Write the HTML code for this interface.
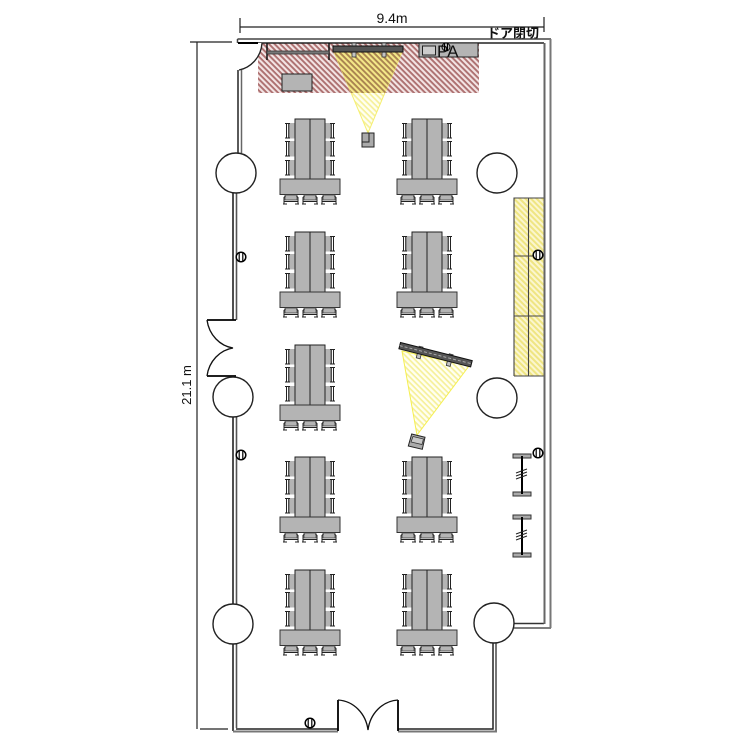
<!DOCTYPE html>
<html><head><meta charset="utf-8"><style>html,body{margin:0;padding:0;background:#fff}svg{display:block}text{font-family:"Liberation Sans","Noto Sans CJK JP",sans-serif;fill:#111}</style></head>
<body><svg width="750" height="750" viewBox="0 0 750 750" xmlns="http://www.w3.org/2000/svg">
<defs>
<pattern id="red" width="4" height="4" patternUnits="userSpaceOnUse" patternTransform="rotate(45)"><rect width="4" height="4" fill="#f3e4e4"/><rect width="4" height="1.900" fill="#ad7070"/></pattern>
<pattern id="yel" width="4" height="4" patternUnits="userSpaceOnUse" patternTransform="rotate(45)"><rect width="4" height="4" fill="#fffff2"/><rect width="4" height="1.700" fill="#f6f09a"/></pattern>
<pattern id="yelr" width="4" height="4" patternUnits="userSpaceOnUse" patternTransform="rotate(45)"><rect width="4" height="4" fill="#fbf6cf"/><rect width="4" height="2" fill="#efe582"/></pattern>
<pattern id="org" width="4" height="4" patternUnits="userSpaceOnUse" patternTransform="rotate(45)"><rect width="4" height="4" fill="#f4e888"/><rect width="4" height="1.900" fill="#a98350"/></pattern>
<g id="sc"><rect x="3" y="0" width="7" height="15.500" fill="#b4b4b4"/><path d="M0 .5H5M0 15H5M1.500 .5V15M3.800 .5V15" fill="none" stroke="#222" stroke-width="1"/></g>
<g id="bc"><rect x="2" y="0" width="12" height="5" fill="#b4b4b4" stroke="#444" stroke-width=".8"/><path d="M1 9V2.500L2.500 1M15 9V2.500L13.500 1M1 6.500H15M0 9H4M12 9H16" fill="none" stroke="#222" stroke-width="1"/></g>
<g id="t">
<use href="#sc" x="5" y="4"/><use href="#sc" x="5" y="22"/><use href="#sc" x="5" y="41"/>
<use href="#sc" transform="translate(55 4) scale(-1 1)"/><use href="#sc" transform="translate(55 22) scale(-1 1)"/><use href="#sc" transform="translate(55 41) scale(-1 1)"/>
<rect x="15" y="0" width="30" height="60" fill="#b4b4b4" stroke="#222"/><path d="M30 0V60" stroke="#222"/>
<rect x="0" y="60" width="60" height="15.500" fill="#b4b4b4" stroke="#333"/>
<use href="#bc" x="3" y="76"/><use href="#bc" x="22" y="76"/><use href="#bc" x="41" y="76"/>
</g>
<g id="o"><circle cx="0" cy="0" r="4.800" fill="#fff" stroke="#000" stroke-width="1.500"/><path d="M-1.800 -4.500V4.500M1.800 -4.500V4.500" stroke="#000" stroke-width="1.200"/></g>
<g id="e"><rect x="0" y="0" width="18" height="4" fill="#aaa" stroke="#333" stroke-width="1"/><rect x="0" y="38" width="18" height="4" fill="#aaa" stroke="#333" stroke-width="1"/><path d="M9 2V40" stroke="#000" stroke-width="2"/><path d="M3 19l11-4M3 22l11-4M3 25l11-4" stroke="#222" stroke-width="1"/></g>
</defs>

<!-- hatched areas -->
<rect x="258" y="43" width="221" height="50" fill="url(#red)"/>
<path d="M334 52H402L368 133Z" fill="url(#yel)" stroke="#f5ef70"/>
<path d="M334 52H402L385 93H351Z" fill="url(#org)"/>
<path d="M402 351L469 366L417 435Z" fill="url(#yel)" stroke="#f5ef50"/>
<rect x="514" y="198" width="30" height="178" fill="url(#yelr)"/>
<path d="M514 376V198H544M514 376H544M528.500 198V376M514 256H544M514 316H544" fill="none" stroke="#444" stroke-width="1.100"/>

<!-- dimensions -->
<path d="M240 27H544M240 18V33M544 17V32" stroke="#222" fill="none" stroke-width="1.200"/>
<path d="M197 42V729M190 42H232M200 729H228" stroke="#222" fill="none" stroke-width="1.200"/>
<text x="392" y="23" font-size="14" text-anchor="middle">9.4m</text>
<text x="0" y="0" font-size="13" text-anchor="middle" transform="translate(191 385) rotate(-90)">21.1 m</text>
<text x="487" y="38" font-size="13" font-weight="700">ドア閉切</text>

<!-- walls -->
<g fill="none">
<path d="M237.500 39H551" stroke="#444" stroke-width="1.500"/>
<path d="M237.500 39V43" stroke="#444" stroke-width="1.500"/>
<path d="M258 43H544" stroke="#222" stroke-width="1.500"/>
<path d="M238 70V153" stroke="#222" stroke-width="1.500"/><path d="M241.500 70V153" stroke="#666" stroke-width="1.500"/>
<path d="M233 193V320M233 417V604M233 644V731" stroke="#222" stroke-width="1.600"/>
<path d="M236.500 193V320M236.500 417V604M236.500 644V728" stroke="#555" stroke-width="1.600"/>
<path d="M236 729H338M398 729H493V643" stroke="#222" stroke-width="1.500"/>
<path d="M233 731.500H338M398 731.500H496V643" stroke="#777" stroke-width="2"/>
<path d="M514 623.500H544" stroke="#333" stroke-width="1.400"/>
<path d="M514 628H551" stroke="#555" stroke-width="1.600"/>
<path d="M544.500 43V624" stroke="#666" stroke-width="2"/><path d="M550.500 39V628" stroke="#777" stroke-width="2"/>
</g>
<path d="M238 43H258" stroke="#000" stroke-width="2"/>
<path d="M262 43C261 58 250 68 239 70L258 70V43Z" fill="#fff" stroke="none"/>
<path d="M262 43C261 58 250 68 239 70" fill="none" stroke="#222" stroke-width="1.300"/>
<path d="M207 320H236M207 376H236" stroke="#000" stroke-width="1.800"/>
<path d="M207 320C209 335 220 346 233 348C220 350 209 361 207 376" fill="none" stroke="#111" stroke-width="1.300"/>
<path d="M338 731V700M398 731V700" stroke="#000" stroke-width="1.800"/>
<path d="M338 700C354 701 366 714 368 730C370 714 382 701 398 700" fill="none" stroke="#111" stroke-width="1.300"/>

<!-- pillars -->
<g fill="#fff" stroke="#222" stroke-width="1.400">
<circle cx="236" cy="173" r="20"/><circle cx="233" cy="397" r="20"/><circle cx="233" cy="624" r="20"/>
<circle cx="497" cy="173" r="20"/><circle cx="497" cy="398" r="20"/><circle cx="494" cy="623" r="20"/>
</g>

<!-- stage items -->
<path d="M267 43V60M329 43V60" stroke="#111" stroke-width="1.500"/>
<rect x="267" y="51" width="62" height="3" fill="#777" stroke="#333" stroke-width=".8"/>
<rect x="352" y="43" width="4" height="14" fill="#c4c4c4" stroke="#333" stroke-width=".8"/><rect x="382" y="43" width="4" height="14" fill="#c4c4c4" stroke="#333" stroke-width=".8"/>
<rect x="333" y="46" width="70" height="6" fill="#555" stroke="#111"/>
<rect x="282" y="74" width="30" height="17" fill="#b4b4b4" stroke="#222"/>
<rect x="419" y="43" width="59" height="14" fill="#b4b4b4" stroke="#222"/>
<rect x="422.500" y="46" width="13" height="9" fill="#ccc" stroke="#222"/>
<text x="437" y="57" font-size="17">PA</text>
<circle cx="446" cy="47" r="4" fill="none" stroke="#000"/><path d="M444.500 43V51M447.500 43V51" stroke="#000"/>

<!-- projector -->
<rect x="362" y="133" width="12" height="14" fill="#aaa" stroke="#222"/><path d="M362 142H369V133" fill="none" stroke="#222"/>

<!-- tilted screen -->
<g transform="translate(400.500 342.500) rotate(14.200)">
<rect x="19" y="-1" width="4" height="12" fill="#c4c4c4" stroke="#333" stroke-width=".8"/><rect x="50" y="-1" width="4" height="12" fill="#c4c4c4" stroke="#333" stroke-width=".8"/>
<rect x="0" y="0" width="74" height="6.500" fill="#555" stroke="#111"/>
<path d="M0 3.200H74" stroke="#aaa" stroke-dasharray="3 2"/>
</g>
<path d="M411.700 434L425 437.300L422.300 449.300L408.300 446Z" fill="#aaa" stroke="#222"/>
<path d="M413 436.500L423.500 439L422 444.500L411 442Z" fill="#c8c8c8" stroke="#333" stroke-width=".8"/>

<!-- tables -->
<use href="#t" x="280" y="119"/><use href="#t" x="397" y="119"/>
<use href="#t" x="280" y="232"/><use href="#t" x="397" y="232"/>
<use href="#t" x="280" y="345"/>
<use href="#t" x="280" y="457"/><use href="#t" x="397" y="457"/>
<use href="#t" x="280" y="570"/><use href="#t" x="397" y="570"/>

<!-- outlets -->
<use href="#o" x="241" y="257"/><use href="#o" x="241" y="455"/><use href="#o" x="538" y="255"/><use href="#o" x="538" y="453"/><use href="#o" x="310" y="723"/>
<!-- stands -->
<use href="#e" x="513" y="454"/><use href="#e" x="513" y="515"/>
</svg></body></html>
